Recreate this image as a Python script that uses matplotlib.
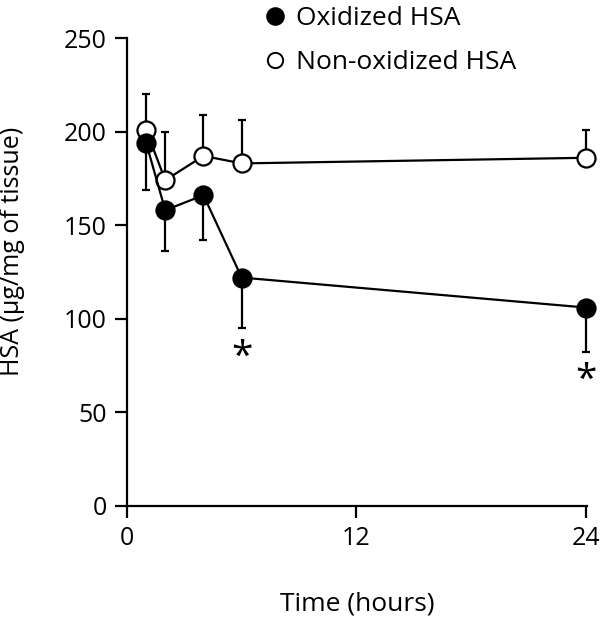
import numpy as np
import matplotlib
matplotlib.use('Agg')
from matplotlib import pyplot as plt
from matplotlib.lines import Line2D

plt.rcParams['font.family'] = ['Open Sans', 'DejaVu Sans']

hours = [1, 2, 4, 6, 24]
oxidized = [194, 158, 166, 122, 106]
oxidized_err = [25, 22, 24, 27, 24]
nonox = [201, 174, 187, 183, 186]
nonox_err = [19, 26, 22, 23, 15]
star_hours = [6, 24]
star_vals = [79, 67]

fig = plt.figure(figsize=(6, 6.2), dpi=100)
ax = fig.add_axes([0.2117, 0.184, 0.766, 0.7547])

zeros = np.zeros(len(hours))
ax.errorbar(hours, nonox, yerr=[zeros, nonox_err], color='black', lw=1.6,
            marker='o', ms=13, mfc='white', mec='black', mew=1.6,
            capsize=3, capthick=1.6, elinewidth=1.6, zorder=3, clip_on=False)
ax.errorbar(hours, oxidized, yerr=[oxidized_err, zeros], color='black', lw=1.6,
            marker='o', ms=13, mfc='black', mec='black', mew=1.6,
            capsize=3, capthick=1.6, elinewidth=1.6, zorder=4, clip_on=False)

for h, v in zip(star_hours, star_vals):
    ax.text(h, v, '*', ha='center', va='center', fontsize=28)

ax.set_xlim(0, 24.05)
ax.set_ylim(0, 250)
ax.set_xticks([0, 12, 24])
ax.set_yticks([0, 50, 100, 150, 200, 250])
ax.spines['top'].set_visible(False)
ax.spines['right'].set_visible(False)
ax.spines['left'].set_linewidth(1.6)
ax.spines['bottom'].set_linewidth(1.6)
ax.tick_params(direction='out', length=8.5, width=1.6, labelsize=18, pad=6)
ax.set_xlabel('Time (hours)', fontsize=19)
ax.xaxis.set_label_coords(0.5, -0.183)
ax.set_ylabel('HSA (μg/mg of tissue)', fontsize=18)
ax.yaxis.set_label_coords(-0.222, 0.543)

handles = [
    Line2D([], [], ls='none', marker='o', ms=12, mfc='black', mec='black', mew=1.4),
    Line2D([], [], ls='none', marker='o', ms=11, mfc='white', mec='black', mew=1.4),
]
fig.legend(handles, ['Oxidized HSA', 'Non-oxidized HSA'], loc='upper left',
           bbox_to_anchor=(0.397, 1.028), frameon=False, fontsize=19,
           handletextpad=0.3, labelspacing=0.7, handlelength=1.0)

fig.savefig('out.png', dpi=100)
